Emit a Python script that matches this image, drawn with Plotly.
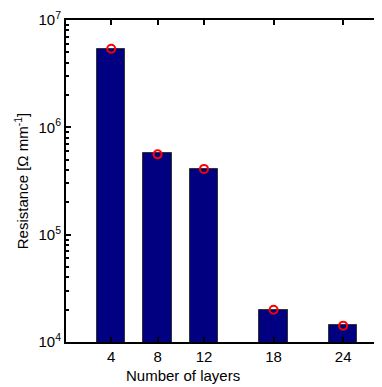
import plotly.graph_objects as go

layers = [4, 8, 12, 18, 24]
bar_resistance = [5.33e6, 5.74e5, 4.07e5, 1.98e4, 1.43e4]
measured_resistance = [5.4e6, 5.6e5, 4.1e5, 2.0e4, 1.42e4]
y_tickvals = [1e4, 1e5, 1e6, 1e7]
y_ticktext = ["10<sup>4</sup>", "10<sup>5</sup>", "10<sup>6</sup>", "10<sup>7</sup>"]

y_minor = [m * 10**e for e in (4, 5, 6) for m in range(2, 10)]

fig = go.Figure()
fig.add_trace(go.Bar(
    x=layers, y=bar_resistance, width=2.45,
    marker=dict(color="#000080", line=dict(color="#333333", width=1)),
    showlegend=False,
))
fig.add_trace(go.Scatter(
    x=layers, y=measured_resistance, mode="markers",
    marker=dict(symbol="circle-open", color="#ff0000", size=8, line=dict(width=2, color="#ff0000")),
    showlegend=False,
))

font = dict(family="Liberation Sans, Arial, sans-serif", size=15, color="black")
# page body has an 8px default margin, so the figure is 8px smaller on each side
fig.update_layout(
    width=374, height=379,
    margin=dict(l=58, r=0, t=12, b=45, autoexpand=False),
    plot_bgcolor="white", paper_bgcolor="white",
    font=font,
    bargap=0,
    xaxis=dict(
        range=[0.1, 27.35], tickvals=layers, ticktext=[str(v) for v in layers],
        ticks="inside", ticklen=5, tickwidth=1.5, tickcolor="black",
        showline=True, linewidth=2, linecolor="black", mirror="allticks",
        showgrid=False, zeroline=False, automargin=False,
        tickfont=font,
    ),
    yaxis=dict(
        type="log", range=[4, 7], tickvals=y_tickvals, ticktext=y_ticktext,
        ticks="inside", ticklen=5, tickwidth=1.5, tickcolor="black",
        showline=True, linewidth=2, linecolor="black", mirror=False,
        showgrid=False, zeroline=False, automargin=False,
        minor=dict(tickvals=y_minor, ticks="inside", ticklen=3, tickcolor="black", showgrid=False),
        title=dict(text="Resistance [Ω mm<sup>-1</sup>]", standoff=6, font=font),
        tickfont=font,
    ),
    annotations=[dict(
        text="Number of layers", xref="paper", yref="paper", x=0.37, y=0,
        yshift=-23, xanchor="center", yanchor="top", showarrow=False, font=font,
    )],
)
fig.write_html("out.html")
